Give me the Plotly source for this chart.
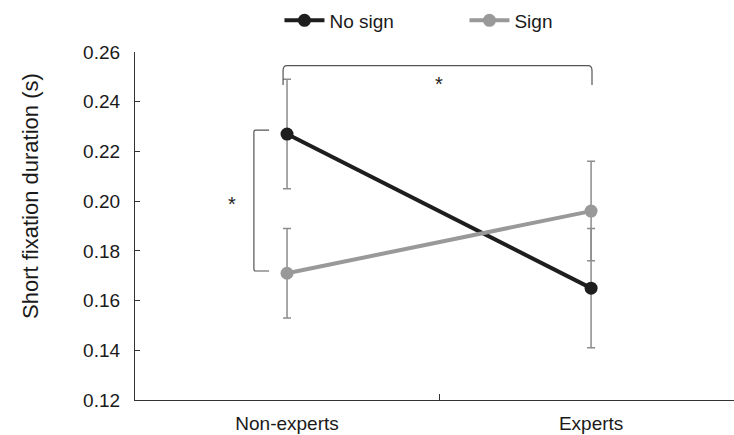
import plotly.graph_objects as go

groups = ["Non-experts", "Experts"]
no_sign = [0.227, 0.165]
no_sign_err = [0.022, 0.024]
sign = [0.171, 0.196]
sign_err = [0.018, 0.020]

font = "Liberation Sans, Arial, sans-serif"
dark = "#1e1e1e"
grey = "#999999"
err_grey = "#8c8c8c"

fig = go.Figure()
for name, vals, errs, col in [("No sign", no_sign, no_sign_err, dark),
                              ("Sign", sign, sign_err, grey)]:
    fig.add_trace(go.Scatter(
        x=groups, y=vals, name=name, mode="lines+markers",
        line=dict(color=col, width=4),
        marker=dict(color=col, size=13),
        error_y=dict(type="data", array=errs, color=err_grey, thickness=1.5, width=4),
    ))

# significance brackets
fig.add_shape(type="path", xref="x", yref="y",
              path="M -0.013,0.2467 L -0.013,0.2525 Q -0.013,0.2545 0.0,0.2545 "
                   "L 0.99,0.2545 Q 1.003,0.2545 1.003,0.2525 L 1.003,0.2467",
              line=dict(color="#555555", width=1.2))
fig.add_shape(type="path", xref="x", yref="y",
              path="M -0.059,0.2286 L -0.104,0.2286 Q -0.109,0.2286 -0.109,0.2276 "
                   "L -0.109,0.1729 Q -0.109,0.1719 -0.104,0.1719 L -0.059,0.1719",
              line=dict(color="#555555", width=1.2))
fig.add_annotation(x=0.5, y=0.2473, xref="x", yref="y", text="*", showarrow=False,
                   font=dict(family=font, size=20, color="#222222"))
fig.add_annotation(x=-0.18, y=0.1988, xref="x", yref="y", text="*", showarrow=False,
                   font=dict(family=font, size=20, color="#222222"))

# y-axis title
fig.add_annotation(x=30, y=196, xref="paper", yref="paper", text="Short fixation duration (s)",
                   textangle=-90, showarrow=False,
                   font=dict(family=font, size=22, color="#1a1a1a"))

fig.update_layout(
    width=734, height=435,
    margin=dict(l=135, r=0, t=52, b=35),
    plot_bgcolor="white", paper_bgcolor="white",
    font=dict(family=font, size=19, color="#1a1a1a"),
    showlegend=True,
    legend=dict(orientation="h", x=0.55, xanchor="center", yref="container", y=0.953,
                yanchor="middle", font=dict(size=19), entrywidth=130, itemwidth=40),
    xaxis=dict(type="category", range=[-0.5, 1.47], showline=True, linecolor="#333333",
               linewidth=1.2, ticks="inside", tickson="boundaries", ticklen=6,
               tickcolor="#333333", showgrid=False, zeroline=False, ticklabelstandoff=6),
    yaxis=dict(range=[0.12, 0.26], dtick=0.02, tickformat=".2f", showline=True,
               linecolor="#333333", linewidth=1.2, ticks="inside", ticklen=5,
               tickcolor="#333333", showgrid=False, zeroline=False, ticklabelstandoff=10),
)

# place the rotated title in pixel coordinates
plot_w = 734 - 135
plot_h = 435 - 52 - 35
ann = fig.layout.annotations[-1]
ann.x = (30 - 135) / plot_w
ann.y = (435 - 35 - 196) / plot_h
ann.xanchor = "center"
ann.yanchor = "middle"

fig.write_html("out.html")
